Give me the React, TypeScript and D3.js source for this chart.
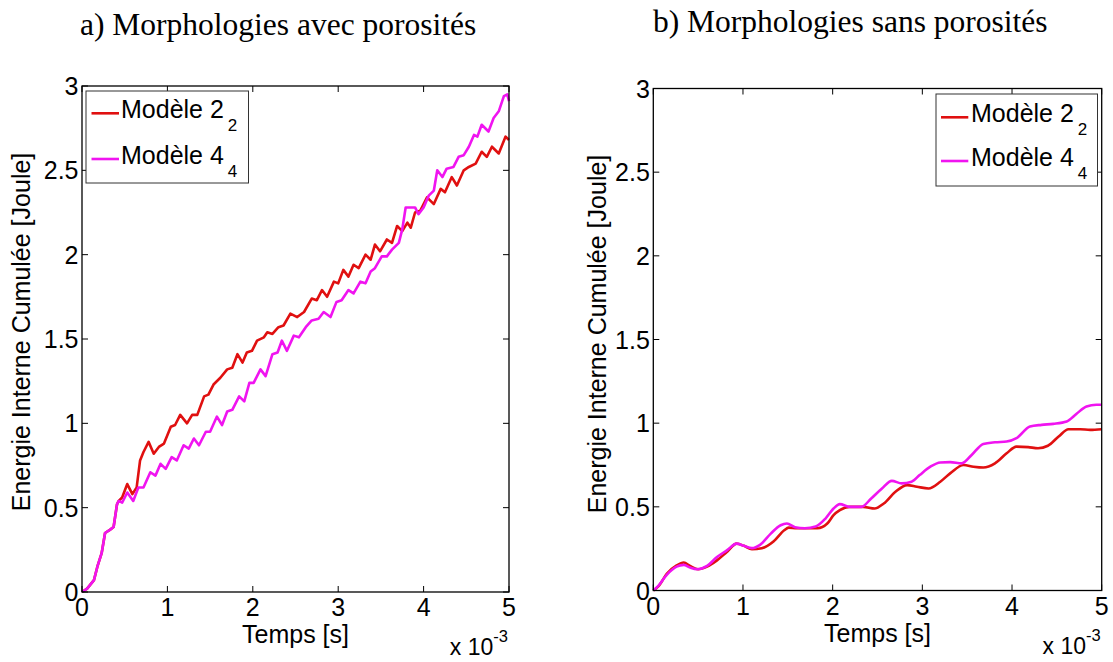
import React from 'react';
import * as d3 from 'd3';

const xTicks = [0, 1, 2, 3, 4, 5];
const yTicks = [0, 0.5, 1, 1.5, 2, 2.5, 3];
const yTickLabels = ['0', '0.5', '1', '1.5', '2', '2.5', '3'];
const legendNames = ['Modèle 2', 'Modèle 4'];
const legendSubs = ['2', '4'];
const titles = ['a) Morphologies avec porosités', 'b) Morphologies sans porosités'];
const xLabel = 'Temps [s]';
const yLabel = 'Energie Interne Cumulée [Joule]';

// Panel a) avec porosités
const aRedT = [0, 0.06, 0.14, 0.18, 0.23, 0.27, 0.33, 0.37, 0.41, 0.43, 0.47, 0.53, 0.59, 0.64, 0.68, 0.72, 0.78, 0.84, 0.9, 0.96, 1.04, 1.09, 1.15, 1.23, 1.29, 1.35, 1.43, 1.48, 1.54, 1.62, 1.7, 1.76, 1.82, 1.88, 1.93, 1.99, 2.05, 2.13, 2.17, 2.23, 2.3, 2.36, 2.44, 2.52, 2.6, 2.69, 2.75, 2.81, 2.87, 2.95, 3.0, 3.06, 3.12, 3.18, 3.24, 3.32, 3.38, 3.43, 3.49, 3.57, 3.63, 3.69, 3.75, 3.81, 3.85, 3.9, 3.96, 4.04, 4.12, 4.2, 4.25, 4.33, 4.39, 4.47, 4.53, 4.61, 4.68, 4.74, 4.8, 4.88, 4.96, 5.0];
const aRedE = [0, 0.02, 0.07, 0.15, 0.23, 0.35, 0.37, 0.385, 0.52, 0.54, 0.56, 0.64, 0.58, 0.62, 0.78, 0.83, 0.89, 0.82, 0.86, 0.88, 0.98, 0.99, 1.05, 1.0, 1.05, 1.05, 1.16, 1.17, 1.23, 1.27, 1.32, 1.33, 1.41, 1.36, 1.42, 1.43, 1.49, 1.51, 1.54, 1.53, 1.57, 1.58, 1.65, 1.63, 1.66, 1.74, 1.73, 1.79, 1.75, 1.84, 1.83, 1.91, 1.87, 1.94, 1.92, 2.0, 1.97, 2.06, 2.02, 2.09, 2.07, 2.17, 2.14, 2.19, 2.16, 2.25, 2.26, 2.34, 2.3, 2.39, 2.37, 2.46, 2.41, 2.5, 2.52, 2.54, 2.61, 2.58, 2.64, 2.6, 2.7, 2.68];
const aMagT = [0, 0.06, 0.14, 0.18, 0.23, 0.27, 0.33, 0.37, 0.41, 0.43, 0.47, 0.53, 0.6, 0.66, 0.72, 0.8, 0.86, 0.92, 0.98, 1.05, 1.11, 1.19, 1.25, 1.31, 1.37, 1.45, 1.5, 1.58, 1.64, 1.7, 1.76, 1.84, 1.9, 1.96, 2.01, 2.09, 2.15, 2.23, 2.29, 2.34, 2.4, 2.48, 2.54, 2.62, 2.69, 2.77, 2.83, 2.91, 2.98, 3.04, 3.12, 3.18, 3.26, 3.32, 3.38, 3.43, 3.51, 3.57, 3.63, 3.71, 3.75, 3.79, 3.84, 3.9, 3.94, 4.0, 4.06, 4.12, 4.16, 4.22, 4.27, 4.35, 4.41, 4.47, 4.53, 4.59, 4.63, 4.68, 4.76, 4.82, 4.88, 4.94, 4.98, 5.0];
const aMagE = [0, 0.02, 0.07, 0.15, 0.23, 0.35, 0.37, 0.385, 0.52, 0.54, 0.53, 0.59, 0.54, 0.62, 0.62, 0.71, 0.69, 0.76, 0.73, 0.8, 0.78, 0.87, 0.85, 0.91, 0.87, 0.95, 0.95, 1.04, 0.99, 1.07, 1.08, 1.16, 1.13, 1.24, 1.24, 1.32, 1.28, 1.41, 1.42, 1.49, 1.43, 1.52, 1.51, 1.57, 1.61, 1.62, 1.66, 1.63, 1.72, 1.73, 1.79, 1.77, 1.84, 1.83, 1.9, 1.92, 1.99, 1.99, 2.03, 2.07, 2.15, 2.28, 2.28, 2.28, 2.24, 2.28, 2.35, 2.38, 2.5, 2.46, 2.51, 2.52, 2.58, 2.59, 2.64, 2.71, 2.7, 2.77, 2.73, 2.81, 2.85, 2.94, 2.95, 2.91];

// Panel b) sans porosités
const bRedT = [0, 0.056, 0.15, 0.26, 0.34, 0.41, 0.5, 0.6, 0.71, 0.82, 0.93, 1.01, 1.1, 1.21, 1.34, 1.46, 1.51, 1.6, 1.72, 1.83, 1.94, 2.01, 2.08, 2.19, 2.34, 2.47, 2.57, 2.7, 2.83, 2.94, 3.07, 3.2, 3.31, 3.46, 3.57, 3.68, 3.81, 3.94, 4.05, 4.18, 4.29, 4.4, 4.52, 4.63, 4.76, 4.87, 5.0];
const bRedE = [0, 0.024, 0.1, 0.15, 0.167, 0.147, 0.127, 0.143, 0.18, 0.23, 0.28, 0.267, 0.247, 0.253, 0.293, 0.36, 0.376, 0.372, 0.372, 0.372, 0.4, 0.45, 0.48, 0.5, 0.5, 0.49, 0.52, 0.59, 0.63, 0.62, 0.61, 0.65, 0.7, 0.75, 0.74, 0.735, 0.76, 0.82, 0.86, 0.857, 0.85, 0.865, 0.92, 0.964, 0.964, 0.96, 0.964];
const bMagT = [0, 0.056, 0.15, 0.26, 0.34, 0.41, 0.49, 0.6, 0.71, 0.82, 0.93, 1.01, 1.1, 1.19, 1.31, 1.42, 1.49, 1.58, 1.69, 1.81, 1.92, 2.01, 2.08, 2.19, 2.32, 2.43, 2.55, 2.66, 2.77, 2.88, 2.97, 3.09, 3.2, 3.31, 3.44, 3.55, 3.68, 3.81, 3.94, 4.05, 4.2, 4.33, 4.46, 4.61, 4.72, 4.83, 4.94, 5.0];
const bMagE = [0, 0.028, 0.094, 0.143, 0.153, 0.137, 0.127, 0.147, 0.2, 0.24, 0.28, 0.267, 0.253, 0.273, 0.34, 0.39, 0.4, 0.378, 0.372, 0.382, 0.43, 0.49, 0.516, 0.5, 0.5, 0.55, 0.61, 0.655, 0.64, 0.65, 0.69, 0.74, 0.765, 0.767, 0.76, 0.81, 0.876, 0.886, 0.89, 0.91, 0.98, 0.99, 0.996, 1.01, 1.056, 1.1, 1.11, 1.11];

const RED = '#e01010';
const MAG = '#f014f0';
const SANS = '"Liberation Sans", Arial, sans-serif';
const SERIF = '"Liberation Serif", "Times New Roman", serif';

type Panel = {
  x0: number; x1: number; y0: number; y1: number;
  series: { t: number[]; e: number[]; color: string }[];
  curve: any;
  legend: { x0: number; x1: number; y0: number; y1: number; lx0: number; lx1: number; rows: number[]; tx: number };
  title: { x: number; y: number; text: string };
  yLabelX: number;
  yLabelY: number;
};

const panels: Panel[] = [
  {
    x0: 82, x1: 509, y0: 592, y1: 86,
    series: [{ t: aRedT, e: aRedE, color: RED }, { t: aMagT, e: aMagE, color: MAG }],
    curve: d3.curveLinear,
    legend: { x0: 86, x1: 248.5, y0: 91, y1: 183, lx0: 91.5, lx1: 119, rows: [113.3, 159], tx: 121 },
    title: { x: 80, y: 35, text: titles[0] },
    yLabelX: 30, yLabelY: 332,
  },
  {
    x0: 653.3, x1: 1101.7, y0: 590.5, y1: 88.5,
    series: [{ t: bRedT, e: bRedE, color: RED }, { t: bMagT, e: bMagE, color: MAG }],
    curve: d3.curveMonotoneX,
    legend: { x0: 936, x1: 1097.5, y0: 94, y1: 186, lx0: 941, lx1: 968.3, rows: [117.3, 161], tx: 971 },
    title: { x: 653, y: 32, text: titles[1] },
    yLabelX: 606, yLabelY: 334,
  },
];

function PanelView({ p }: { p: Panel }) {
  const xs = d3.scaleLinear().domain([0, 5]).range([p.x0, p.x1]);
  const ys = d3.scaleLinear().domain([0, 3]).range([p.y0, p.y1]);
  const line = d3.line<[number, number]>().x(d => xs(d[0])).y(d => ys(d[1])).curve(p.curve);
  const tl = 6;
  const L = p.legend;
  return (
    <g>
      <text x={p.title.x} y={p.title.y} fontFamily={SERIF} fontSize={31.5} fill="#000">{p.title.text}</text>
      <rect x={p.x0} y={p.y1} width={p.x1 - p.x0} height={p.y0 - p.y1} fill="#fff" stroke="none" />
      {p.series.map((s, i) => (
        <path key={i} d={line(s.t.map((t, k) => [t, s.e[k]] as [number, number])) || ''} fill="none" stroke={s.color} strokeWidth={2.6} strokeLinejoin="round" />
      ))}
      {xTicks.map(v => (
        <g key={'x' + v}>
          <line x1={xs(v)} x2={xs(v)} y1={p.y0} y2={p.y0 - tl} stroke="#000" strokeWidth={1} />
          <line x1={xs(v)} x2={xs(v)} y1={p.y1} y2={p.y1 + tl} stroke="#000" strokeWidth={1} />
          <text x={xs(v)} y={p.y0 + 24} textAnchor="middle" fontFamily={SANS} fontSize={25} fill="#000">{v}</text>
        </g>
      ))}
      {yTicks.map((v, i) => (
        <g key={'y' + v}>
          <line x1={p.x0} x2={p.x0 + tl} y1={ys(v)} y2={ys(v)} stroke="#000" strokeWidth={1} />
          <line x1={p.x1} x2={p.x1 - tl} y1={ys(v)} y2={ys(v)} stroke="#000" strokeWidth={1} />
          <text x={p.x0 - 3.5} y={ys(v) + 9} textAnchor="end" fontFamily={SANS} fontSize={25} fill="#000">{yTickLabels[i]}</text>
        </g>
      ))}
      <rect x={p.x0} y={p.y1} width={p.x1 - p.x0} height={p.y0 - p.y1} fill="none" stroke="#000" strokeWidth={1.3} />
      <rect x={L.x0} y={L.y0} width={L.x1 - L.x0} height={L.y1 - L.y0} fill="#fff" stroke="#333" strokeWidth={1} />
      {L.rows.map((ry, i) => (
        <g key={'l' + i}>
          <line x1={L.lx0} x2={L.lx1} y1={ry} y2={ry} stroke={p.series[i].color} strokeWidth={2.6} />
          <text x={L.tx} y={ry + 4.5} fontFamily={SANS} fontSize={25} fill="#000">
            {legendNames[i]}
            <tspan dx={4} dy={13.5} fontSize={17}>{legendSubs[i]}</tspan>
          </text>
        </g>
      ))}
      <text x={(p.x0 + p.x1) / 2} y={p.y0 + 51} textAnchor="middle" fontFamily={SANS} fontSize={25} fill="#000">{xLabel}</text>
      <text x={p.x1 - 1} y={p.y0 + 63} textAnchor="end" fontFamily={SANS} fontSize={23} fill="#000">
        x 10<tspan dy={-13} fontSize={16.5}>-3</tspan>
      </text>
      <text transform={`translate(${p.yLabelX},${p.yLabelY}) rotate(-90)`} textAnchor="middle" fontFamily={SANS} fontSize={25} fill="#000">{yLabel}</text>
    </g>
  );
}

export default function App() {
  return (
    <svg width={1113} height={662} style={{ position: 'absolute', left: 0, top: 0, background: '#fff' }}>
      <rect x={0} y={0} width={1113} height={662} fill="#fff" />
      {panels.map((p, i) => <PanelView key={i} p={p} />)}
    </svg>
  );
}
